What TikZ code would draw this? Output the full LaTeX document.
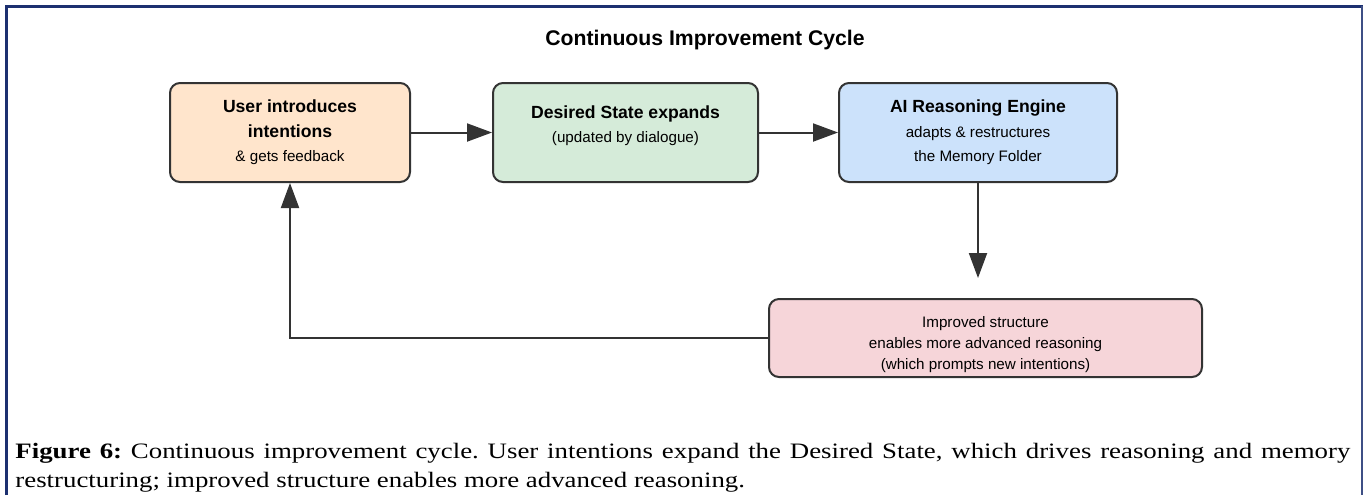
\documentclass[tikz,border=0pt]{standalone}
\usepackage{fontspec}
\setmainfont{Liberation Serif}
\setsansfont{Liberation Sans}
\newfontfamily\capfont[FakeStretch=1.22]{Liberation Serif}
\usetikzlibrary{arrows.meta}

\definecolor{framenavy}{RGB}{28,48,112}
\definecolor{edgegray}{RGB}{51,51,51}
\definecolor{fillorange}{RGB}{255,229,204}
\definecolor{fillgreen}{RGB}{213,235,217}
\definecolor{fillblue}{RGB}{204,226,251}
\definecolor{fillpink}{RGB}{246,213,217}

\newcommand\boxhead[1]{{\fontsize{8.8}{12.3}\selectfont\bfseries #1}}

\begin{document}
\frenchspacing
\begin{tikzpicture}[x=0.5pt,y=-0.5pt,
  cyclebox/.style={draw=edgegray, line width=1pt, rounded corners=5pt,
    align=center, inner sep=0pt, text=black,
    font=\sffamily\fontsize{7.6}{12.3}\selectfont},
  flow/.style={draw=edgegray, line width=1pt,
    -{Triangle[length=12.5pt,width=9pt]}}]

  % canvas
  \fill[white] (0,0) rectangle (1365,495);
  \useasboundingbox (0,0) rectangle (1365,495);

  % figure frame
  \draw[framenavy, line width=1.5pt] (6,495) -- (6,6) -- (1363,6);
  \draw[framenavy!85, line width=1pt] (1362,6) -- (1362,495);

  % title
  \node[anchor=base, font=\sffamily\bfseries\fontsize{10.6}{12}\selectfont]
    (title) at (705,45) {Continuous Improvement Cycle};

  % stages of the cycle
  \node[cyclebox, fill=fillorange, minimum width=120pt, minimum height=49.5pt]
    (user) at (290,132.5)
    {\boxhead{User introduces}\\\boxhead{intentions}\\\& gets feedback};
  \node[cyclebox, fill=fillgreen, minimum width=132.5pt, minimum height=49.5pt]
    (desired) at (625.5,132.5)
    {\boxhead{Desired State expands}\\(updated by dialogue)\\[-4pt]\mbox{}};
  \node[cyclebox, fill=fillblue, minimum width=139pt, minimum height=49.5pt]
    (engine) at (978,132.5)
    {\boxhead{AI Reasoning Engine}\\adapts \& restructures\\the Memory Folder};
  \node[cyclebox, fill=fillpink, minimum width=216.5pt, minimum height=39pt,
    font=\sffamily\fontsize{7.6}{10.5}\selectfont]
    (improve) at (985.5,338)
    {\mbox{}\\[2pt]Improved structure\\enables more advanced reasoning\\(which prompts new intentions)};

  % connectors
  \coordinate (engineout) at (978,278);
  \draw[flow] (user.east) -- (desired.west);
  \draw[flow] (desired.east) -- (engine.west);
  \draw[flow] (engine.south) -- (engineout);
  \draw[flow] (improve.west) -| (user.south);

  % caption
  \node[anchor=north west, inner sep=0pt, text width=667.5pt, align=justify,
    font=\capfont\fontsize{11}{14.5}\selectfont]
    (caption) at (15,443)
    {\textbf{Figure 6:} Continuous improvement cycle. User intentions expand the
     Desired State, which drives reasoning and memory\linebreak
     restructuring; improved structure enables more advanced reasoning.};
\end{tikzpicture}
\end{document}
